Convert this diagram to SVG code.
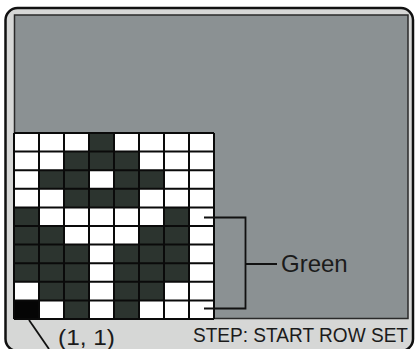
<svg xmlns="http://www.w3.org/2000/svg" width="415" height="349" viewBox="0 0 415 349">
<style>
.frame{fill:#d6d7d6;stroke:#111;stroke-width:2.5}
.screen{fill:#8b9193;stroke:#2a2a2a;stroke-width:1.5}
.cell{fill:#2c342f}
.black{fill:#050505}
.gl{stroke:#0a0a0a;stroke-width:2;fill:none}
.br{stroke:#111;stroke-width:1.8;fill:none}
.t{font-family:"Liberation Sans",Arial,sans-serif;fill:#1b1b1b}
</style>
<g id="frame">
<rect class="frame" x="5.5" y="8" width="407.5" height="343" rx="12"/>
<rect class="screen" x="14.5" y="15" width="393.5" height="303.5"/>
</g>
<g id="grid">
<rect x="14" y="133" width="200" height="186" fill="#fff"/>
<rect class="cell" x="89" y="133" width="25" height="18.6"/>
<rect class="cell" x="64" y="151.6" width="75" height="18.6"/>
<rect class="cell" x="39" y="170.2" width="50" height="18.6"/>
<rect class="cell" x="114" y="170.2" width="50" height="18.6"/>
<rect class="cell" x="64" y="188.8" width="75" height="18.6"/>
<rect class="cell" x="14" y="207.4" width="25" height="18.6"/>
<rect class="cell" x="164" y="207.4" width="25" height="18.6"/>
<rect class="cell" x="14" y="226" width="50" height="18.6"/>
<rect class="cell" x="139" y="226" width="50" height="18.6"/>
<rect class="cell" x="14" y="244.6" width="75" height="37.2"/>
<rect class="cell" x="114" y="244.6" width="75" height="37.2"/>
<rect class="cell" x="39" y="281.8" width="50" height="18.6"/>
<rect class="cell" x="114" y="281.8" width="50" height="18.6"/>
<rect class="cell" x="64" y="300.4" width="25" height="18.6"/>
<rect class="cell" x="114" y="300.4" width="25" height="18.6"/>
<rect class="black" x="14" y="300.4" width="25" height="18.6"/>
<path class="gl" d="M14 133V319M39 133V319M64 133V319M89 133V319M114 133V319M139 133V319M164 133V319M189 133V319M214 133V319M14 133H214M14 151.6H214M14 170.2H214M14 188.8H214M14 207.4H214M14 226H214M14 244.6H214M14 263.2H214M14 281.8H214M14 300.4H214M14 319H214"/>
</g>
<g id="connectors">
<path class="br" d="M204 217.5H245.5V308.5H204M245.5 264H277"/>
<path class="br" d="M29 320L49 349"/>
</g>
<g id="labels">
<text class="t" x="281" y="272" font-size="24">Green</text>
<text class="t" x="58" y="345" font-size="22" textLength="57" lengthAdjust="spacingAndGlyphs">(1, 1)</text>
<text class="t" x="193" y="342" font-size="19.5" textLength="215" lengthAdjust="spacingAndGlyphs">STEP: START ROW SET</text>
</g>
</svg>
